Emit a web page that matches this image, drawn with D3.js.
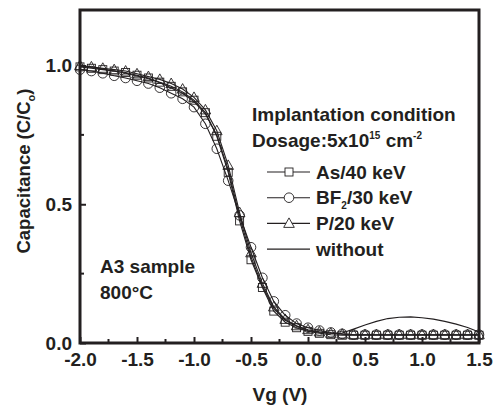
<!DOCTYPE html>
<html>
<head>
<meta charset="utf-8">
<script src="https://cdn.jsdelivr.net/npm/d3@7"></script>
<style>
  body { margin: 0; background: #fff; }
  text { font-family: "Liberation Sans", Arial, sans-serif; font-weight: bold; fill: #231f20; }
</style>
</head>
<body>
<div id="chart"></div>
<script>
// C-V Kurven, normiert (C/Co) gegen Vg

const vg = [-2.0, -1.9, -1.8, -1.7, -1.6, -1.5, -1.4, -1.3, -1.2, -1.1, -1.0, -0.9, -0.8, -0.7, -0.6, -0.5, -0.4, -0.3,
  -0.2, -0.1, 0.0, 0.1, 0.2, 0.3, 0.4, 0.5, 0.6, 0.7, 0.8, 0.9, 1.0, 1.1, 1.2, 1.3, 1.4, 1.5];

const asVals = [0.995, 0.99, 0.985, 0.98, 0.975, 0.965, 0.955, 0.94, 0.925, 0.905, 0.875, 0.83, 0.745, 0.615, 0.44, 0.3,
  0.2, 0.115, 0.075, 0.055, 0.042, 0.035, 0.03, 0.028, 0.028, 0.028, 0.028, 0.028, 0.028, 0.028, 0.028, 0.028, 0.028,
  0.028, 0.028, 0.028];

const bf2Vals = [0.985, 0.98, 0.972, 0.963, 0.955, 0.945, 0.935, 0.92, 0.9, 0.88, 0.85, 0.79, 0.7, 0.585, 0.46, 0.345,
  0.235, 0.15, 0.1, 0.07, 0.055, 0.045, 0.038, 0.033, 0.03, 0.03, 0.03, 0.03, 0.03, 0.03, 0.03, 0.03, 0.03, 0.03, 0.03,
  0.03];

const pVals = [1.0, 0.995, 0.99, 0.985, 0.98, 0.97, 0.96, 0.95, 0.935, 0.915, 0.885, 0.84, 0.765, 0.64, 0.47, 0.325,
  0.215, 0.13, 0.085, 0.062, 0.048, 0.04, 0.035, 0.032, 0.03, 0.03, 0.03, 0.03, 0.03, 0.03, 0.03, 0.03, 0.03, 0.03, 0.03,
  0.03];

const withoutVals = [1.0, 0.993, 0.987, 0.98, 0.972, 0.962, 0.952, 0.938, 0.92, 0.9, 0.87, 0.825, 0.75, 0.625, 0.455,
  0.31, 0.205, 0.125, 0.082, 0.06, 0.045, 0.038, 0.035, 0.036, 0.05, 0.065, 0.078, 0.088, 0.093, 0.094, 0.091, 0.086,
  0.078, 0.068, 0.056, 0.04];

const xTicks = [-2.0, -1.5, -1.0, -0.5, 0.0, 0.5, 1.0, 1.5];
const xMinor = [-1.75, -1.25, -0.75, -0.25, 0.25, 0.75, 1.25];
const yTicks = [0.0, 0.5, 1.0];
const yMinor = [0.25, 0.75];

const legendItems = [
  { label: "As/40 keV", sub: null, vals: asVals, shape: "square" },
  { label: "BF", sub: "2", rest: "/30 keV", vals: bf2Vals, shape: "circle" },
  { label: "P/20 keV", sub: null, vals: pVals, shape: "triangle" },
  { label: "without", sub: null, vals: withoutVals, shape: null }
];

const W = 500, H = 410;
const m = { top: 10, right: 21, bottom: 67, left: 80 };
const innerW = W - m.left - m.right, innerH = H - m.top - m.bottom;
const FS = "19px";

const svg = d3.select("#chart").append("svg").attr("width", W).attr("height", H);
const g = svg.append("g").attr("transform", `translate(${m.left},${m.top})`);

const x = d3.scaleLinear().domain([-2.0, 1.5]).range([0, innerW]);
const y = d3.scaleLinear().domain([0, 1.2]).range([innerH, 0]);

// Marker-Symbole
function marker(sel, shape, cx, cy) {
  if (shape === "square") {
    sel.append("rect").attr("x", cx - 4).attr("y", cy - 4).attr("width", 8).attr("height", 8);
  } else if (shape === "circle") {
    sel.append("circle").attr("cx", cx).attr("cy", cy).attr("r", 4.8);
  } else if (shape === "triangle") {
    sel.append("path").attr("d", `M${cx},${cy - 5.5} L${cx + 5.3},${cy + 4} L${cx - 5.3},${cy + 4} Z`);
  }
}

const line = d3.line().x(d => x(d[0])).y(d => y(d[1]));

// Kurven
legendItems.forEach(it => {
  const pts = vg.map((v, i) => [v, it.vals[i]]);
  g.append("path").datum(pts).attr("d", line)
    .attr("fill", "none").attr("stroke", "#231f20").attr("stroke-width", 1.1);
  if (it.shape) {
    const mg = g.append("g").attr("fill", "none").attr("stroke", "#231f20").attr("stroke-width", 0.9);
    pts.forEach(p => marker(mg, it.shape, x(p[0]), y(p[1])));
  }
});

// Rahmen
g.append("rect").attr("x", 0).attr("y", 0).attr("width", innerW).attr("height", innerH)
  .attr("fill", "none").attr("stroke", "#231f20").attr("stroke-width", 3);

// Achsen (Ticks nach innen)
const fmt = d => d.toFixed(1);
const xAxis = g.append("g").attr("transform", `translate(0,${innerH})`)
  .call(d3.axisBottom(x).tickValues(xTicks).tickSize(-6).tickPadding(10).tickFormat(fmt));
xAxis.attr("font-family", null).attr("font-size", null);
xAxis.select(".domain").remove();
xAxis.selectAll("line").attr("stroke", "#231f20").attr("stroke-width", 2);
xAxis.selectAll("text").style("font-size", FS);
xAxis.selectAll(".minor").data(xMinor).join("line").attr("class", "minor")
  .attr("x1", d => x(d)).attr("x2", d => x(d)).attr("y1", 0).attr("y2", -4)
  .attr("stroke", "#231f20").attr("stroke-width", 2);

const yAxis = g.append("g")
  .call(d3.axisLeft(y).tickValues(yTicks).tickSize(-6).tickPadding(8).tickFormat(fmt));
yAxis.attr("font-family", null).attr("font-size", null);
yAxis.select(".domain").remove();
yAxis.selectAll("line").attr("stroke", "#231f20").attr("stroke-width", 2);
yAxis.selectAll("text").style("font-size", FS);
yAxis.selectAll(".minor").data(yMinor).join("line").attr("class", "minor")
  .attr("y1", d => y(d)).attr("y2", d => y(d)).attr("x1", 0).attr("x2", 4)
  .attr("stroke", "#231f20").attr("stroke-width", 2);

// Achsentitel
svg.append("text").attr("x", 280).attr("y", 401).attr("text-anchor", "middle")
  .style("font-size", FS).text("Vg (V)");

const yt = svg.append("text").attr("transform", `translate(30,171) rotate(-90)`)
  .attr("text-anchor", "middle").style("font-size", "18.5px");
yt.append("tspan").text("Capacitance (C/C");
yt.append("tspan").attr("dy", 5).style("font-size", "11px").text("o");
yt.append("tspan").attr("dy", -5).text(")");

// Legende
const lg = svg.append("g");
lg.append("text").attr("x", 252).attr("y", 121).style("font-size", FS).text("Implantation condition");
const dos = lg.append("text").attr("x", 252).attr("y", 147).style("font-size", FS);
dos.append("tspan").text("Dosage:5x10");
dos.append("tspan").attr("dy", -8).style("font-size", "10px").text("15");
dos.append("tspan").attr("dy", 8).text(" cm");
dos.append("tspan").attr("dy", -8).style("font-size", "10px").text("-2");

legendItems.forEach((it, i) => {
  const cy = 172 + i * 25.7;
  lg.append("line").attr("x1", 267).attr("x2", 310).attr("y1", cy).attr("y2", cy)
    .attr("stroke", "#231f20").attr("stroke-width", 1.1);
  if (it.shape) {
    const mg = lg.append("g").attr("fill", "#fff").attr("stroke", "#231f20").attr("stroke-width", 0.9);
    marker(mg, it.shape, 289, cy);
  }
  const t = lg.append("text").attr("x", 316).attr("y", cy + 6.5).style("font-size", FS);
  t.append("tspan").text(it.label);
  if (it.sub) {
    t.append("tspan").attr("dy", 5).style("font-size", "10px").text(it.sub);
    t.append("tspan").attr("dy", -5).text(it.rest);
  }
});

// Probenbeschriftung
svg.append("text").attr("x", 100).attr("y", 273).style("font-size", FS).text("A3 sample");
svg.append("text").attr("x", 100).attr("y", 299).style("font-size", FS).text("800°C");
</script>
</body>
</html>
